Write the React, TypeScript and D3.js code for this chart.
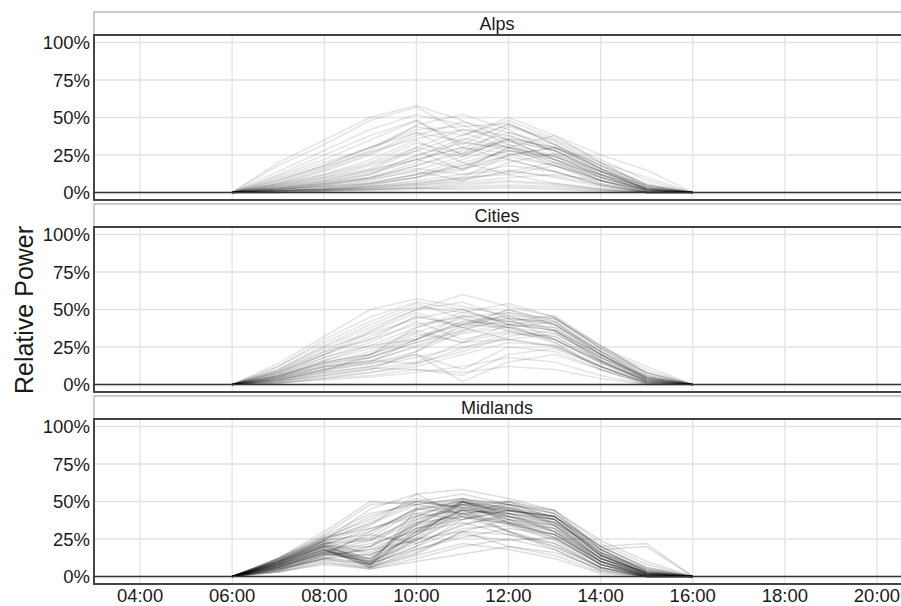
import React from "react";
import * as d3 from "d3";

// hours of the profile points (06:00 and 16:00 are always zero)
const hours = [6, 7, 8, 9, 10, 11, 12, 13, 14, 15, 16];
const regions = ["Alps", "Cities", "Midlands"];
const xTicks = [4, 6, 8, 10, 12, 14, 16, 18, 20];
const yTicks = [0, 25, 50, 75, 100];

// relative power (%) at 07:00 .. 15:00, one row per site
const alpsProfiles = [
	[12, 25, 38, 48, 30, 22, 14, 5, 0],
	[18, 32, 48, 57, 40, 30, 18, 6, 0],
	[8, 18, 30, 42, 44, 46, 32, 18, 3],
	[3, 6, 10, 18, 28, 35, 28, 12, 2],
	[2, 4, 6, 12, 22, 32, 25, 10, 1],
	[1, 2, 4, 8, 12, 15, 10, 4, 0],
	[1, 3, 5, 10, 18, 28, 20, 8, 0],
	[5, 12, 22, 35, 20, 12, 6, 2, 0],
	[10, 20, 30, 40, 25, 38, 28, 14, 3],
	[2, 5, 10, 20, 35, 45, 35, 20, 5],
	[0, 1, 2, 4, 6, 8, 6, 3, 0],
	[1, 2, 3, 6, 10, 25, 30, 18, 6],
	[6, 14, 25, 38, 47, 40, 30, 16, 2],
	[3, 8, 15, 28, 38, 48, 36, 22, 8],
	[14, 28, 42, 52, 45, 32, 20, 8, 0],
	[1, 3, 6, 12, 16, 22, 14, 5, 0],
	[0, 1, 1, 2, 3, 4, 3, 1, 0],
	[4, 10, 18, 28, 15, 25, 30, 15, 2],
	[2, 6, 12, 22, 30, 40, 32, 16, 4],
	[7, 16, 28, 45, 52, 42, 26, 12, 1],
	[1, 2, 4, 7, 10, 12, 18, 10, 2],
	[3, 7, 12, 25, 33, 30, 24, 14, 5],
	[0, 1, 3, 5, 8, 14, 20, 12, 3],
	[9, 18, 30, 44, 38, 50, 38, 20, 4],
	[2, 4, 8, 15, 24, 36, 30, 20, 10],
	[5, 10, 16, 30, 42, 35, 22, 10, 1],
	[1, 2, 5, 10, 15, 30, 38, 25, 15],
	[20, 35, 50, 58, 48, 35, 22, 8, 0],
	[1, 2, 3, 5, 7, 10, 12, 8, 2],
	[4, 9, 15, 22, 30, 26, 18, 8, 1],
	[2, 5, 9, 14, 8, 20, 26, 14, 2],
	[0, 1, 2, 3, 5, 7, 5, 2, 0],
	[6, 12, 20, 33, 26, 44, 34, 18, 5],
	[1, 3, 6, 10, 20, 28, 22, 12, 3],
	[3, 6, 10, 16, 12, 18, 14, 6, 0],
	[11, 22, 35, 48, 32, 46, 32, 16, 2],
	[2, 4, 7, 12, 18, 24, 18, 8, 1],
	[4, 8, 14, 24, 36, 30, 22, 10, 2],
	[1, 2, 2, 3, 4, 5, 4, 2, 0],
	[6, 15, 26, 40, 34, 28, 24, 12, 1],
	[2, 5, 9, 18, 26, 34, 28, 14, 2],
	[0, 1, 2, 3, 2, 3, 2, 1, 0],
	[3, 7, 13, 22, 16, 30, 24, 11, 1],
	[8, 17, 27, 36, 42, 38, 28, 14, 3],
	[1, 2, 4, 6, 9, 14, 11, 5, 0],
	[5, 11, 19, 30, 24, 36, 30, 16, 4],
];

const citiesProfiles = [
	[8, 20, 32, 45, 40, 38, 30, 15, 3],
	[3, 10, 18, 30, 42, 45, 40, 22, 8],
	[12, 30, 45, 55, 50, 40, 28, 10, 0],
	[5, 15, 20, 38, 48, 42, 38, 20, 4],
	[2, 6, 10, 15, 28, 35, 30, 15, 2],
	[10, 25, 38, 50, 60, 52, 45, 25, 12],
	[4, 12, 15, 30, 40, 44, 42, 20, 5],
	[6, 18, 28, 42, 30, 36, 32, 16, 2],
	[1, 4, 8, 12, 20, 28, 26, 12, 1],
	[7, 20, 35, 48, 38, 30, 25, 12, 1],
	[3, 10, 14, 22, 35, 40, 44, 24, 6],
	[9, 22, 30, 40, 45, 48, 40, 22, 5],
	[2, 8, 12, 20, 10, 25, 22, 10, 0],
	[5, 14, 22, 35, 44, 38, 34, 18, 3],
	[14, 32, 50, 57, 52, 46, 36, 18, 4],
	[1, 3, 5, 8, 12, 18, 15, 6, 0],
	[4, 12, 18, 28, 38, 42, 46, 26, 8],
	[6, 16, 24, 36, 28, 40, 36, 20, 4],
	[3, 8, 12, 18, 25, 30, 34, 18, 5],
	[8, 22, 36, 50, 55, 44, 30, 14, 2],
	[2, 6, 10, 22, 40, 50, 42, 22, 6],
	[5, 12, 16, 25, 34, 38, 30, 15, 2],
	[10, 26, 40, 52, 48, 54, 45, 24, 8],
	[3, 9, 14, 20, 2, 15, 20, 10, 1],
	[6, 15, 20, 30, 42, 40, 38, 18, 3],
	[4, 10, 15, 26, 36, 44, 40, 20, 4],
	[7, 18, 26, 38, 46, 42, 36, 16, 2],
	[1, 5, 8, 14, 22, 32, 36, 16, 3],
	[12, 28, 42, 54, 44, 36, 28, 12, 1],
	[5, 13, 20, 32, 40, 46, 44, 24, 10],
	[4, 11, 16, 14, 24, 34, 32, 16, 2],
	[2, 7, 11, 10, 6, 20, 24, 12, 1],
	[9, 24, 34, 44, 50, 40, 36, 20, 5],
	[6, 14, 18, 28, 36, 48, 44, 26, 7],
	[3, 9, 20, 34, 28, 30, 26, 12, 1],
	[5, 16, 26, 30, 46, 38, 42, 22, 4],
	[1, 4, 6, 10, 8, 12, 10, 4, 0],
	[8, 20, 30, 46, 38, 50, 40, 20, 3],
];

const midlandsProfiles = [
	[10, 22, 8, 30, 50, 42, 35, 12, 2],
	[8, 18, 6, 25, 45, 40, 32, 10, 1],
	[12, 25, 35, 48, 52, 45, 38, 15, 3],
	[6, 15, 20, 35, 48, 38, 30, 10, 0],
	[9, 20, 10, 40, 52, 48, 42, 18, 4],
	[5, 14, 30, 45, 42, 30, 20, 6, 0],
	[11, 24, 45, 55, 40, 35, 28, 10, 1],
	[7, 18, 8, 20, 38, 44, 40, 16, 2],
	[4, 12, 6, 15, 30, 28, 22, 6, 0],
	[10, 25, 40, 50, 55, 48, 40, 20, 22],
	[8, 20, 12, 35, 50, 38, 26, 8, 1],
	[6, 16, 22, 30, 44, 42, 38, 14, 2],
	[12, 28, 48, 50, 46, 40, 36, 18, 20],
	[3, 10, 5, 12, 20, 25, 18, 4, 0],
	[9, 22, 30, 45, 50, 46, 40, 15, 2],
	[7, 17, 9, 28, 42, 35, 25, 8, 0],
	[10, 20, 25, 38, 48, 50, 42, 20, 5],
	[5, 14, 18, 32, 40, 30, 22, 6, 0],
	[8, 19, 7, 45, 48, 36, 28, 10, 1],
	[11, 26, 38, 52, 44, 42, 38, 14, 2],
	[6, 16, 10, 22, 35, 40, 34, 12, 3],
	[4, 12, 15, 25, 30, 20, 14, 3, 0],
	[9, 21, 32, 40, 50, 44, 36, 16, 4],
	[7, 18, 6, 18, 26, 32, 28, 10, 0],
	[10, 24, 28, 46, 51, 48, 44, 22, 8],
	[5, 13, 8, 30, 45, 30, 18, 4, 0],
	[8, 20, 20, 42, 38, 44, 40, 18, 3],
	[12, 30, 50, 48, 42, 36, 30, 12, 1],
	[6, 15, 12, 28, 48, 45, 38, 14, 2],
	[3, 8, 5, 10, 15, 20, 16, 5, 0],
	[9, 22, 24, 36, 50, 40, 30, 8, 1],
	[7, 19, 9, 32, 44, 48, 42, 20, 6],
	[11, 24, 36, 50, 46, 38, 32, 12, 1],
	[4, 14, 18, 24, 40, 35, 28, 8, 0],
	[8, 20, 8, 26, 50, 42, 36, 14, 2],
	[10, 23, 34, 55, 58, 52, 44, 24, 10],
	[6, 16, 14, 30, 36, 28, 20, 6, 0],
	[9, 21, 10, 38, 46, 44, 40, 16, 3],
	[5, 12, 20, 34, 42, 46, 36, 12, 1],
	[8, 18, 7, 16, 30, 38, 34, 10, 0],
	[12, 27, 42, 48, 52, 40, 34, 14, 2],
	[7, 17, 12, 34, 49, 46, 40, 18, 4],
	[3, 9, 6, 14, 22, 18, 12, 2, 0],
	[10, 22, 26, 44, 50, 36, 26, 8, 0],
	[6, 15, 10, 24, 42, 44, 38, 16, 5],
	[9, 24, 14, 36, 40, 50, 38, 14, 2],
	[7, 16, 28, 22, 34, 42, 30, 10, 1],
	[5, 12, 9, 18, 28, 24, 26, 8, 0],
	[11, 26, 32, 42, 48, 44, 40, 20, 6],
	[8, 21, 16, 32, 38, 48, 34, 12, 1],
	[6, 17, 24, 40, 44, 36, 32, 12, 2],
	[10, 23, 11, 28, 46, 50, 44, 18, 3],
	[4, 11, 8, 20, 32, 34, 24, 6, 0],
];

const profilesByRegion = [alpsProfiles, citiesProfiles, midlandsProfiles];

export default function App() {
	const width = 901;
	const height = 606;
	const marginLeft = 94;
	const firstStripTop = 12;
	const stripHeight = 23;
	const panelHeight = 165;
	const panelGap = 4;
	const font = "'Liberation Sans', Arial, sans-serif";

	const x = d3.scaleLinear().domain([3, 20.5]).range([marginLeft, 900]);

	const line = d3
		.line<[number, number]>()
		.x((d) => d[0])
		.y((d) => d[1]);

	const lastPanelBottom =
		firstStripTop + 3 * (stripHeight + panelHeight) + 2 * panelGap;

	return (
		<svg
			width={width}
			height={height}
			style={{ position: "absolute", left: 0, top: 0, background: "#fff" }}
		>
			{regions.map((region, i) => {
				const stripTop = firstStripTop + i * (stripHeight + panelHeight + panelGap);
				const panelTop = stripTop + stripHeight;
				const y = d3
					.scaleLinear()
					.domain([-5, 105])
					.range([panelTop + panelHeight, panelTop]);
				const profiles = profilesByRegion[i];
				return (
					<g key={region}>
						{/* strip */}
						<rect
							x={marginLeft}
							y={stripTop}
							width={width}
							height={stripHeight}
							fill="#fff"
							stroke="#9a9a9a"
							strokeWidth={1}
						/>
						<text
							x={(marginLeft + 900) / 2}
							y={stripTop + 17.5}
							textAnchor="middle"
							fontFamily={font}
							fontSize={18}
							fill="#1a1a1a"
						>
							{region}
						</text>

						{/* grid */}
						<g stroke="#e3e3e3" strokeWidth={1.3}>
							{yTicks.map((t) => (
								<line key={t} x1={marginLeft} x2={width} y1={y(t)} y2={y(t)} />
							))}
							{xTicks.map((t) => (
								<line
									key={t}
									x1={x(t)}
									x2={x(t)}
									y1={panelTop}
									y2={panelTop + panelHeight}
								/>
							))}
						</g>

						{/* profiles */}
						<g
							fill="none"
							stroke="#000"
							strokeOpacity={i === 2 ? 0.13 : 0.1}
							strokeWidth={1.5}
							strokeLinejoin="round"
						>
							{profiles.map((p, j) => {
								const vals = [0, ...p, 0];
								const pts: [number, number][] = hours.map((h, k) => [x(h), y(vals[k])]);
								return <path key={j} d={line(pts) || undefined} />;
							})}
						</g>

						{/* zero line */}
						<line
							x1={marginLeft}
							x2={width}
							y1={y(0)}
							y2={y(0)}
							stroke="#333"
							strokeWidth={1.6}
						/>

						{/* panel border */}
						<rect
							x={marginLeft}
							y={panelTop}
							width={width}
							height={panelHeight}
							fill="none"
							stroke="#333"
							strokeWidth={1.8}
						/>

						{/* y axis labels */}
						{yTicks.map((t) => (
							<text
								key={t}
								x={90}
								y={y(t)}
								dy="0.36em"
								textAnchor="end"
								fontFamily={font}
								fontSize={18.5}
								fill="#1a1a1a"
							>
								{t}%
							</text>
						))}
					</g>
				);
			})}

			{/* x axis labels */}
			{xTicks.map((t) => (
				<text
					key={t}
					x={x(t)}
					y={lastPanelBottom + 18}
					textAnchor="middle"
					fontFamily={font}
					fontSize={18.5}
					fill="#1a1a1a"
				>
					{String(t).padStart(2, "0")}:00
				</text>
			))}

			{/* y axis title */}
			<text
				transform={`translate(33, 310) rotate(-90)`}
				textAnchor="middle"
				fontFamily={font}
				fontSize={25}
				fill="#1a1a1a"
			>
				Relative Power
			</text>
		</svg>
	);
}
